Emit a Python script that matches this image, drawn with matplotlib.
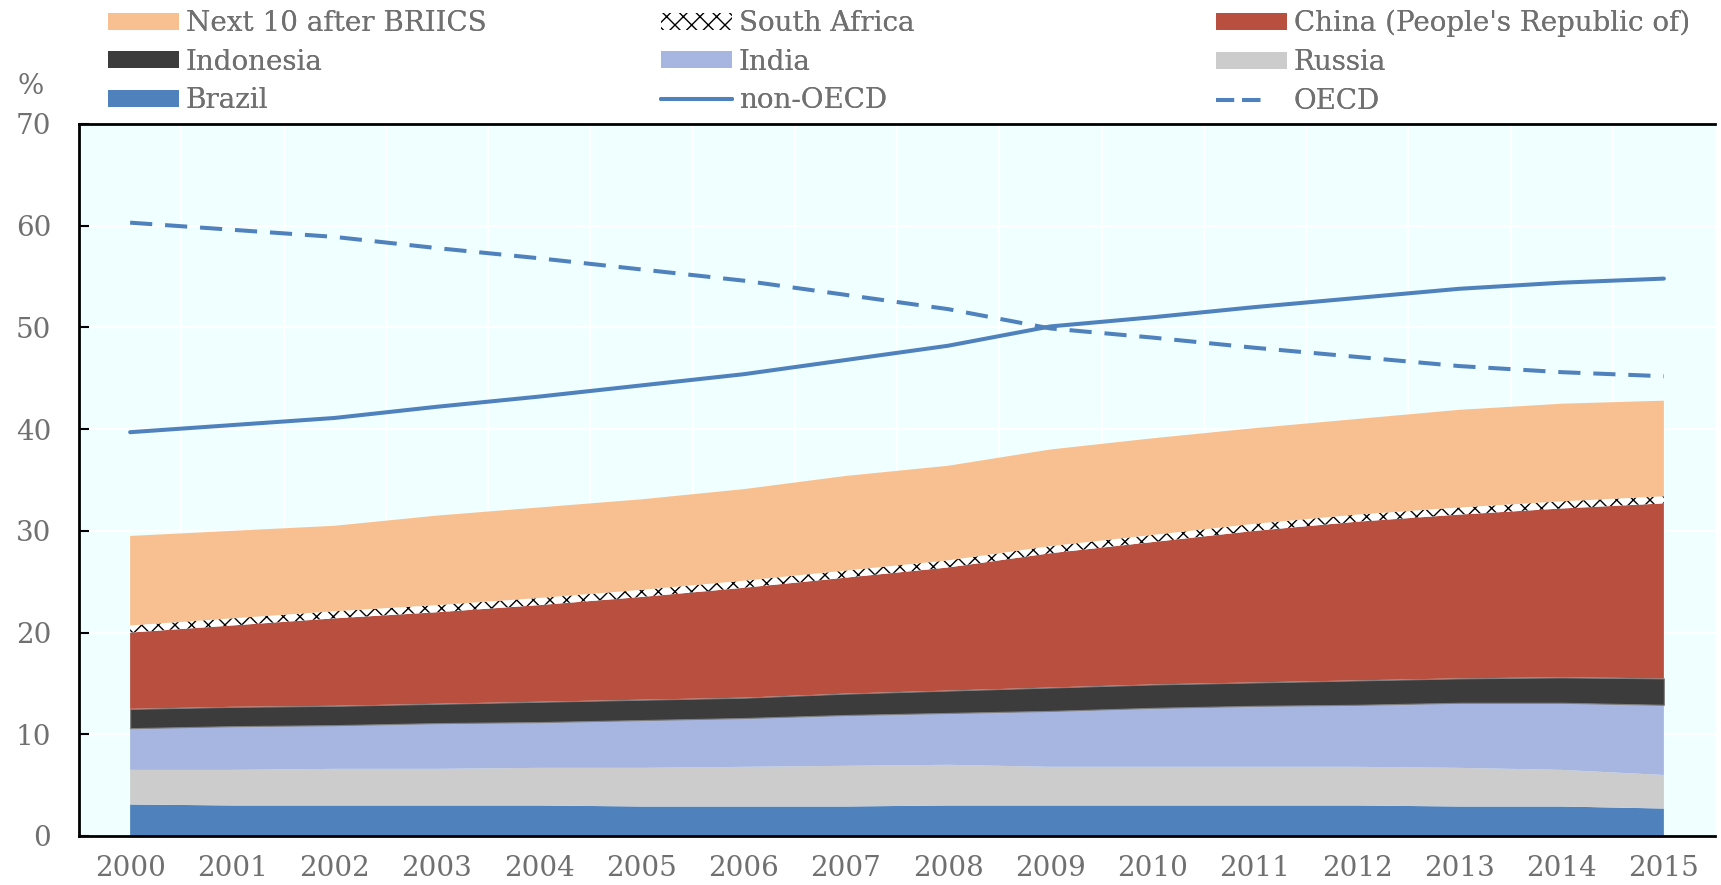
import numpy as np
import matplotlib
matplotlib.use("Agg")
import matplotlib.pyplot as plt
from matplotlib.patches import Patch
from matplotlib.lines import Line2D

years = list(range(2000, 2016))
brazil = [3.1, 3.0, 3.0, 3.0, 3.0, 2.9, 2.9, 2.9, 3.0, 3.0, 3.0, 3.0, 3.0, 2.9, 2.9, 2.7]
russia = [3.4, 3.5, 3.6, 3.6, 3.7, 3.8, 3.9, 4.0, 4.0, 3.8, 3.8, 3.8, 3.8, 3.8, 3.6, 3.3]
india = [4.1, 4.3, 4.3, 4.5, 4.5, 4.7, 4.8, 5.0, 5.1, 5.5, 5.8, 6.0, 6.1, 6.4, 6.6, 6.9]
indonesia = [1.9, 1.9, 1.9, 1.9, 2.0, 2.0, 2.0, 2.1, 2.2, 2.3, 2.3, 2.3, 2.4, 2.4, 2.5, 2.6]
china = [7.5, 8.0, 8.6, 9.0, 9.5, 10.1, 10.8, 11.4, 12.1, 13.2, 14.0, 14.9, 15.6, 16.1, 16.6, 17.2]
south_africa = [0.7, 0.7, 0.7, 0.7, 0.7, 0.7, 0.7, 0.7, 0.7, 0.7, 0.7, 0.7, 0.7, 0.7, 0.7, 0.7]
next10 = [8.8, 8.6, 8.4, 8.8, 8.9, 8.9, 9.0, 9.3, 9.3, 9.5, 9.5, 9.4, 9.4, 9.6, 9.6, 9.4]
non_oecd = [39.7, 40.4, 41.1, 42.2, 43.2, 44.3, 45.4, 46.8, 48.2, 50.1, 51.0, 52.0, 52.9, 53.8, 54.4, 54.8]
oecd = [60.3, 59.6, 58.9, 57.8, 56.8, 55.7, 54.6, 53.2, 51.8, 49.9, 49.0, 48.0, 47.1, 46.2, 45.6, 45.2]

c_brazil = "#4F81BD"
c_russia = "#CCCCCC"
c_india = "#A6B6E0"
c_indo = "#3C3C3C"
c_china = "#B84F3F"
c_sa = "#FFFFFF"
c_next = "#F8C090"
c_line = "#4F81BD"
txt = "#707070"

plt.rcParams['font.family'] = ['DejaVu Serif']
plt.rcParams['hatch.color'] = 'black'
plt.rcParams['hatch.linewidth'] = 1.0

fig = plt.figure(figsize=(17.21, 8.85), dpi=100)
ax = fig.add_axes([79/1721, 1-836/885, (1715-79)/1721, (836-124)/885])
ax.set_facecolor("#F0FFFF")

x = np.arange(len(years))
series = [brazil, russia, india, indonesia, china, south_africa, next10]
cols = [c_brazil, c_russia, c_india, c_indo, c_china, c_sa, c_next]
polys = ax.stackplot(x, *series, colors=cols, linewidth=0, zorder=2)
polys[5].set_hatch('xx')
polys[5].set_edgecolor('black')
polys[5].set_linewidth(0)
polys[3].set_edgecolor('#808080')
polys[3].set_linewidth(0.8)

ax.plot(x, non_oecd, color=c_line, lw=2.9, zorder=3, solid_capstyle='round')
ax.plot(x, oecd, color=c_line, lw=2.9, zorder=3, dashes=(5.5, 3.2))

ax.set_xlim(-0.5, len(years) - 0.5)
ax.set_ylim(0, 70)
ax.set_yticks(range(0, 71, 10))
ax.set_xticks(x)
ax.set_xticklabels([str(y) for y in years])
ax.set_xticks(np.arange(0.5, len(years) - 1, 1), minor=True)

for yv in range(10, 70, 10):
    ax.axhline(yv, color='white', lw=1.5, zorder=1)
for xv in np.arange(0.5, len(years) - 1, 1):
    ax.axvline(xv, color='white', lw=1.5, zorder=1)

ax.tick_params(axis='y', direction='in', length=7, width=1.5, color='black',
               labelsize=20, labelcolor=txt, pad=20)
ax.tick_params(axis='x', which='major', length=0, labelsize=20, labelcolor=txt, pad=14)
ax.tick_params(axis='x', which='minor', direction='in', length=7, width=1.5, color='black')

for s in ['left', 'bottom', 'top']:
    ax.spines[s].set_color('black')
    ax.spines[s].set_linewidth(2)
ax.spines['right'].set_visible(False)

fig.text(31/1721, 1-86/885, "%", ha='center', va='center', fontsize=20, color=txt)

def patch(c, hatch=None):
    if hatch:
        return Patch(facecolor='white', edgecolor='black', hatch=hatch, linewidth=0)
    return Patch(facecolor=c, edgecolor='none')

groups = [
    ([patch(c_next), patch(c_indo), patch(c_brazil)],
     ["Next 10 after BRIICS", "Indonesia", "Brazil"], 108),
    ([patch(None, 'xx'), patch(c_india), Line2D([], [], color=c_line, lw=2.9, solid_capstyle='round')],
     ["South Africa", "India", "non-OECD"], 661),
    ([patch(c_china), patch(c_russia), Line2D([], [], color=c_line, lw=2.9, dashes=(4.5, 2.0, 4.5, 20))],
     ["China (People's Republic of)", "Russia", "OECD"], 1216),
]
for handles, labels, xpix in groups:
    leg = fig.legend(handles, labels, loc='upper left',
                     bbox_to_anchor=(xpix/1721, 1-10/885), bbox_transform=fig.transFigure,
                     frameon=False, fontsize=20, labelcolor=txt, handlelength=2.55,
                     handleheight=0.55, handletextpad=0.25, labelspacing=0.42,
                     borderpad=0, borderaxespad=0)
    fig.add_artist(leg)

fig.savefig("out.png", dpi=100)
